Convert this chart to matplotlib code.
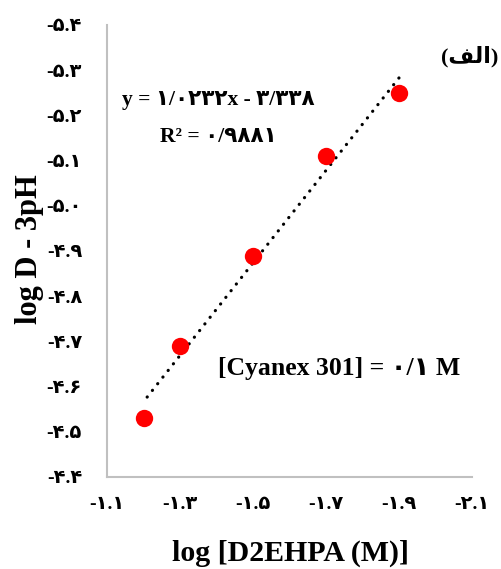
import matplotlib

matplotlib.use("Agg")
import matplotlib.pyplot as plt
import numpy as np
from matplotlib.ticker import FixedLocator, FuncFormatter

FONT = ["Liberation Serif", "DejaVu Sans"]
plt.rcParams["font.family"] = FONT
plt.rcParams["font.weight"] = "bold"
plt.rcParams["axes.unicode_minus"] = False

# داده‌ها
log_d2ehpa = [-1.2, -1.3, -1.5, -1.7, -1.9]
log_d_3ph = [-4.53, -4.69, -4.89, -5.11, -5.25]
x_ticks = [-1.1, -1.3, -1.5, -1.7, -1.9, -2.1]
y_ticks = [-4.4, -4.5, -4.6, -4.7, -4.8, -4.9, -5.0, -5.1, -5.2, -5.3, -5.4]

FA_DIGITS = str.maketrans("0123456789", "۰۱۲۳۴۵۶۷۸۹")


def fa(s):
    return s.translate(FA_DIGITS)


EQ_TEXT = "y = " + fa("1/0232") + "x - " + fa("3/338")
R2_TEXT = "R\u00b2 = " + fa("0/9881")
CYANEX_TEXT = "[Cyanex 301] = " + fa("0/1") + " M"
# "(الف)" به صورت اشکال نمایشی، به ترتیب دیداری چپ به راست
PANEL_TEXT = "(\ufed2\ufedf\ufe8d)"

fig = plt.figure(figsize=(5.01, 5.69), dpi=100)
ax = fig.add_axes([0.2136, 0.1617, 0.7284, 0.7944])

# خط روند (رگرسیون خطی)
coef = np.polyfit(log_d2ehpa, log_d_3ph, 1)
xs = np.array([min(log_d2ehpa), max(log_d2ehpa)])
ax.plot(xs, np.polyval(coef, xs), color="black", lw=2.3,
        linestyle=(0, (0.05, 2.6)), dash_capstyle="round", zorder=2)

ax.plot(log_d2ehpa, log_d_3ph, "o", color="#ff0000", markersize=12.5,
        markeredgewidth=0, zorder=3)

ax.set_xlim(-1.1, -2.1)
ax.set_ylim(-4.4, -5.4)
ax.xaxis.set_major_locator(FixedLocator(x_ticks))
ax.yaxis.set_major_locator(FixedLocator(y_ticks))
ax.xaxis.set_major_formatter(FuncFormatter(lambda v, p: fa(f"{v:.1f}")))
ax.yaxis.set_major_formatter(FuncFormatter(lambda v, p: fa(f"{v:.1f}")))
ax.tick_params(axis="both", length=0, labelsize=14)
ax.tick_params(axis="y", pad=18)
ax.tick_params(axis="x", pad=14)
for lab in ax.get_xticklabels() + ax.get_yticklabels():
    lab.set_fontweight("bold")

for side in ("top", "right"):
    ax.spines[side].set_visible(False)
for side in ("left", "bottom"):
    ax.spines[side].set_color("#c0c0c0")
    ax.spines[side].set_linewidth(1.5)

fig.text(290 / 501, 1 - 553 / 569, "log [D2EHPA (M)]", ha="center",
         va="center", fontsize=21.5, fontweight="bold")
fig.text(30 / 501, 1 - 249 / 569, "log D - 3pH", ha="center", va="center",
         rotation=90, fontsize=22, fontweight="bold")

fig.text(122 / 501, 1 - 100 / 569, EQ_TEXT, ha="left", va="center",
         fontsize=15.5, fontweight="bold")
fig.text(160 / 501, 1 - 137 / 569, R2_TEXT, ha="left", va="center",
         fontsize=15.5, fontweight="bold")
fig.text(218 / 501, 1 - 368 / 569, CYANEX_TEXT, ha="left", va="center",
         fontsize=18.5, fontweight="bold")
fig.text(498 / 501, 1 - 57 / 569, PANEL_TEXT, ha="right", va="center",
         fontsize=16, fontweight="bold")

fig.savefig("out.png", dpi=100, facecolor="white")
